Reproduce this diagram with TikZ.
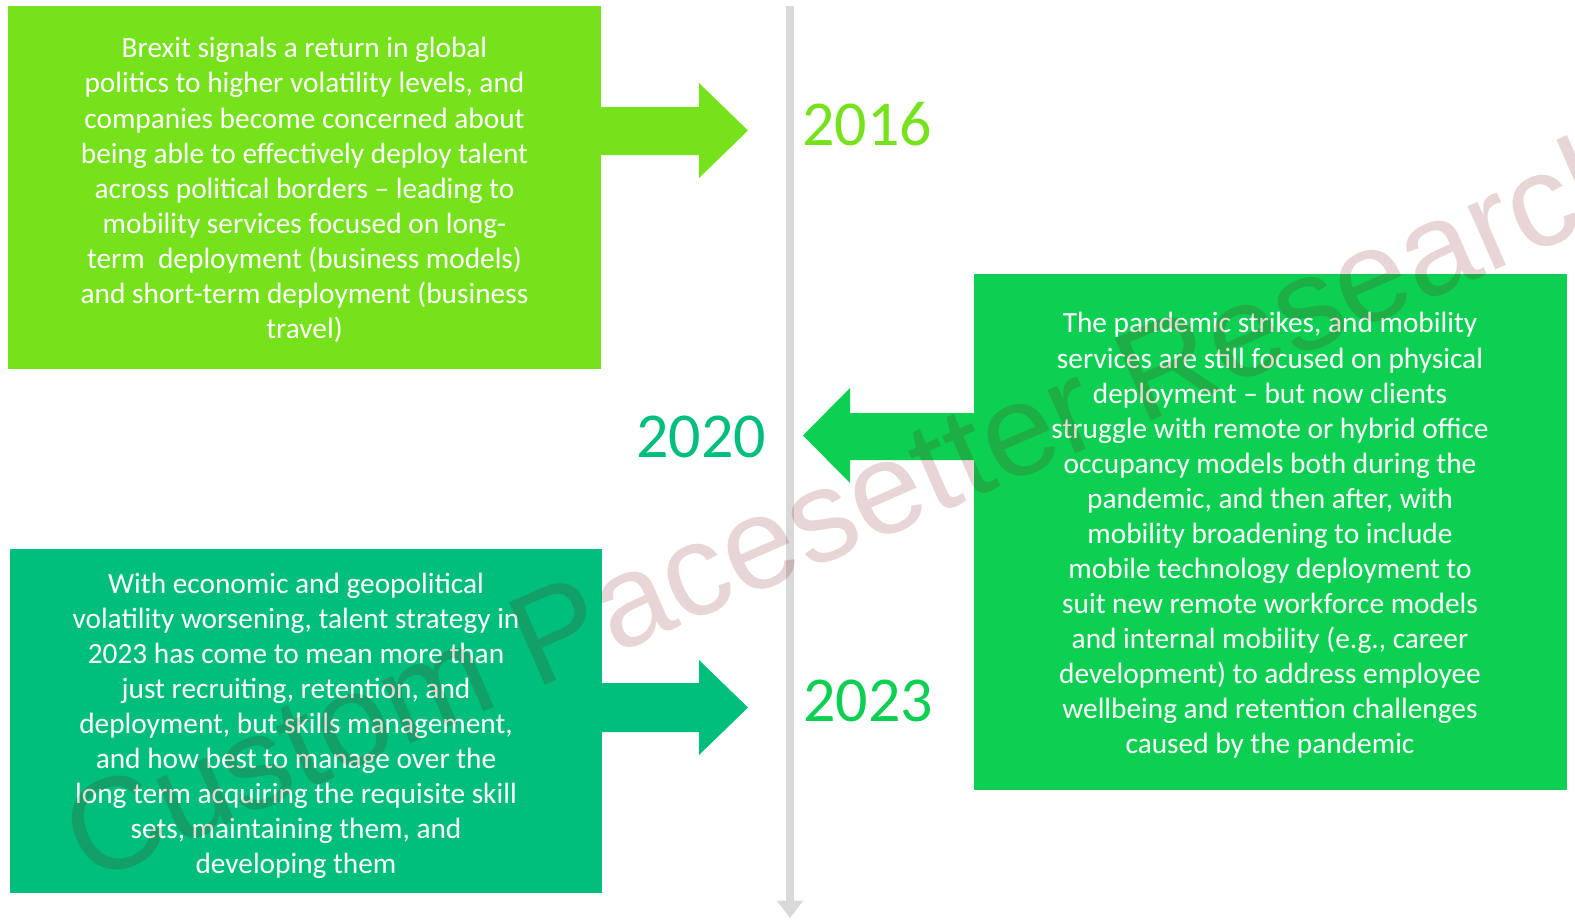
\documentclass[tikz,border=0pt]{standalone}
\usepackage{fontspec}
\setmainfont{Carlito}
\newfontfamily\wmfont{Liberation Sans}
\usetikzlibrary{arrows.meta}
\definecolor{lime}{HTML}{76E21B}
\definecolor{midgreen}{HTML}{0DD052}
\definecolor{teal}{HTML}{00BE7C}
\definecolor{linegray}{HTML}{D9D9D9}
\definecolor{wmred}{RGB}{116,5,5}
\tikzset{
  boxshape/.style={rectangle, inner sep=0pt, draw=none},
  bodytext/.style={text=white, align=center, inner sep=0pt, font=\fontsize{22}{26.3}\selectfont},
  yeartext/.style={inner sep=0pt, font=\fontsize{48}{50}\selectfont},
}
\begin{document}
\begin{tikzpicture}[x=0.75pt, y=-0.75pt]
\useasboundingbox (0,0) rectangle (1575,922);
% boxes
\fill[lime] (8,6) rectangle (601,369);
\node[boxshape, minimum width=444.75pt, minimum height=272.25pt] (b1) at (304.5,187.5) {};
\fill[midgreen] (974,274) rectangle (1567,790);
\node[boxshape, minimum width=444.75pt, minimum height=387pt] (b2) at (1270.5,532) {};
\fill[teal] (10,549) rectangle (602,893);
\node[boxshape, minimum width=444pt, minimum height=258pt] (b3) at (306,721) {};
% block arrows
\fill[lime] (601,107) -- (699,107) -- (699,83) -- (748,130.5) -- (699,178) -- (699,155) -- (601,155) -- cycle;
\fill[midgreen] (974,413) -- (850,413) -- (850,388) -- (803,435.5) -- (850,483) -- (850,460) -- (974,460) -- cycle;
\fill[teal] (602,683) -- (699,683) -- (699,660) -- (748,707.5) -- (699,755) -- (699,732) -- (602,732) -- cycle;
% timeline
\coordinate (ttop) at (790,6);
\coordinate (tbot) at (790,918);
\draw[linegray, line width=6pt, -{Triangle[width=19pt,length=13pt]}] (ttop) -- (tbot);
% texts
\node[bodytext] (t1) at (304.5,190) {Brexit signals a return in global\\
politics to higher volatility levels, and\\
companies become concerned about\\
being able to effectively deploy talent\\
across political borders – leading to\\
mobility services focused on long-\\
term\ \ deployment (business models)\\
and short-term deployment (business\\
travel)};
\node[bodytext] (t2) at (1270,535.5) {The pandemic strikes, and mobility\\
services are still focused on physical\\
deployment – but now clients\\
struggle with remote or hybrid office\\
occupancy models both during the\\
pandemic, and then after, with\\
mobility broadening to include\\
mobile technology deployment to\\
suit new remote workforce models\\
and internal mobility (e.g., career\\
development) to address employee\\
wellbeing and retention challenges\\
caused by the pandemic};
\node[bodytext] (t3) at (296,726) {With economic and geopolitical\\
volatility worsening, talent strategy in\\
2023 has come to mean more than\\
just recruiting, retention, and\\
deployment, but skills management,\\
and how best to manage over the\\
long term acquiring the requisite skill\\
sets, maintaining them, and\\
developing them};
% years
\node[yeartext, text=lime] (y2016) at (867,124) {2016};
\node[yeartext, text=teal] (y2020) at (701,437) {2020};
\node[yeartext, text=midgreen] (y2023) at (868,701) {2023};
% watermark
\node[text=wmred, opacity=0.165, rotate=23.6, inner sep=0pt, font=\wmfont\fontsize{98}{100}\selectfont] (wm) at (853,500) {Custom Pacesetter Research};
\end{tikzpicture}
\end{document}
